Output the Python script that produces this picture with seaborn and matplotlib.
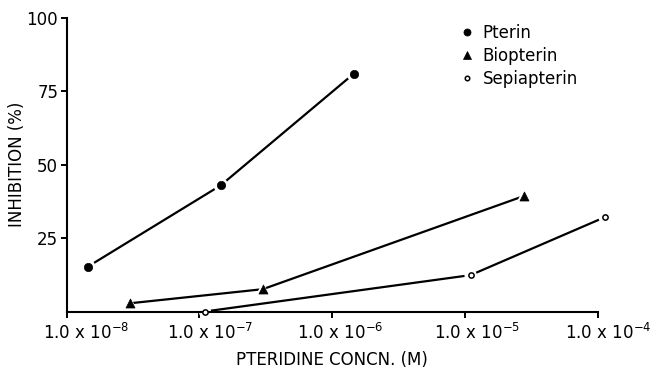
import matplotlib
matplotlib.use("Agg")
import matplotlib.pyplot as plt
import matplotlib.transforms as mtransforms
import seaborn as sns
import pandas as pd
from matplotlib.lines import Line2D

# ---------------- data ----------------
series_names = ["Pterin", "Biopterin", "Sepiapterin"]
pterin_conc = [1.45e-8, 1.45e-7, 1.45e-6]
pterin_inh = [15.3, 43.0, 81.0]
biopterin_conc = [3.0e-8, 3.0e-7, 2.75e-5]
biopterin_inh = [2.8, 7.6, 39.3]
sepiapterin_conc = [1.1e-7, 1.1e-5, 1.12e-4]
sepiapterin_inh = [0.0, 12.4, 32.1]

x_ticks = [1e-8, 1e-7, 1e-6, 1e-5, 1e-4]
x_tick_labels = [r"1.0 x 10$^{-8}$", r"1.0 x 10$^{-7}$", r"1.0 x 10$^{-6}$",
                 r"1.0 x 10$^{-5}$", r"1.0 x 10$^{-4}$"]
y_ticks = [25, 50, 75, 100]
y_tick_labels = ["25", "50", "75", "100"]

x_label = "PTERIDINE CONCN. (M)"
y_label = "INHIBITION (%)"

# ---------------- style ----------------
sns.set_style("ticks")
plt.rcParams["font.family"] = ["DejaVu Sans"]
plt.rcParams["mathtext.default"] = "regular"
plt.rcParams["mathtext.fontset"] = "dejavusans"

fig = plt.figure(figsize=(6.51, 3.68), dpi=100)
W, H = 651, 368
ax = fig.add_axes([66.5 / W, 1 - 311.5 / H, (598 - 66.5) / W, (311.5 - 18) / H])

frames = []
for name, xs, ys in [("Pterin", pterin_conc, pterin_inh),
                     ("Biopterin", biopterin_conc, biopterin_inh),
                     ("Sepiapterin", sepiapterin_conc, sepiapterin_inh)]:
    frames.append(pd.DataFrame({"conc": xs, "inh": ys, "compound": name}))
df = pd.concat(frames, ignore_index=True)

marker_style = {
    "Pterin": dict(marker="o", size=6.0, face="black", edge="black", lw=0.5),
    "Biopterin": dict(marker="^", size=6.5, face="black", edge="black", lw=0.5),
    "Sepiapterin": dict(marker="o", size=3.8, face="white", edge="black", lw=1.1),
}
gap = 4.0

for name in series_names:
    sub = df[df["compound"] == name]
    st = marker_style[name]
    sns.lineplot(data=sub, x="conc", y="inh", ax=ax, color="black", lw=1.6,
                 estimator=None, sort=False, zorder=2, clip_on=False)
    # white mask for the gap between line and marker
    sns.scatterplot(data=sub, x="conc", y="inh", ax=ax, marker=st["marker"],
                    s=(st["size"] + st["lw"] + gap) ** 2, color="white",
                    edgecolor="none", linewidth=0, zorder=2.2, clip_on=False)
    sns.scatterplot(data=sub, x="conc", y="inh", ax=ax, marker=st["marker"],
                    s=st["size"] ** 2, facecolor=st["face"], edgecolor=st["edge"],
                    linewidth=st["lw"], zorder=4, clip_on=False)

ax.set_xscale("log")
ax.set_xlim(1e-8, 1e-4)
ax.set_ylim(0, 100)
ax.set_xticks(x_ticks)
ax.set_xticklabels(x_tick_labels, fontsize=12)
ax.minorticks_off()
ax.set_yticks(y_ticks)
ax.set_yticklabels(y_tick_labels, fontsize=12)
ax.tick_params(axis="both", direction="out", length=4.5, width=1.4,
               color="black", labelcolor="black")
ax.tick_params(axis="x", pad=4.0)
ax.tick_params(axis="y", pad=1.5)

# tick labels in the original sit slightly to the right of their ticks
label_shift_px = [20, 11, 8, 12, 10]
for lab, dx in zip(ax.get_xticklabels(), label_shift_px):
    lab.set_transform(lab.get_transform() +
                      mtransforms.ScaledTranslation(dx / 100, 0, fig.dpi_scale_trans))

for side in ["top", "right"]:
    ax.spines[side].set_visible(False)
for side in ["left", "bottom"]:
    ax.spines[side].set_linewidth(1.5)
    ax.spines[side].set_color("black")

ax.set_xlabel(x_label, fontsize=12, color="black")
ax.set_ylabel(y_label, fontsize=12, color="black")
ax.xaxis.set_label_coords(0.5, -0.136)
ax.yaxis.set_label_coords(-0.077, 0.5)

handles = []
for name in series_names:
    st = marker_style[name]
    handles.append(Line2D([], [], linestyle="none", marker=st["marker"],
                          markersize=st["size"] * 0.85, markerfacecolor=st["face"],
                          markeredgecolor=st["edge"], markeredgewidth=st["lw"]))
leg = ax.legend(handles, series_names, loc="upper left",
                bbox_to_anchor=(460 / W, 1 - 24 / H), bbox_transform=fig.transFigure,
                frameon=False, fontsize=12, handlelength=0.8, handletextpad=0.57,
                labelspacing=0.3, borderpad=0, borderaxespad=0)
for t in leg.get_texts():
    t.set_color("black")

fig.savefig("out.png", dpi=100)
